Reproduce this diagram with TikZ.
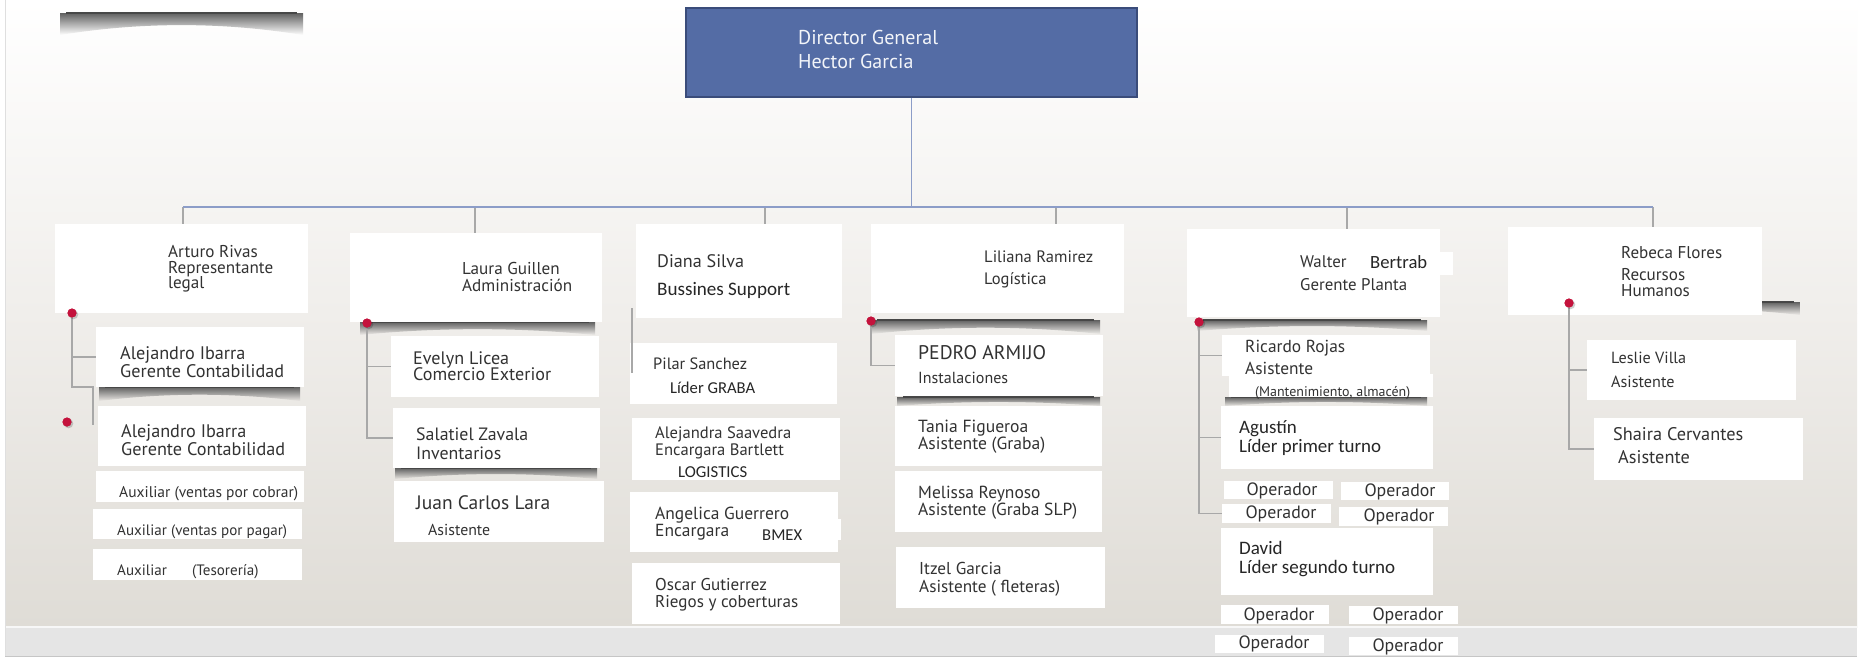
\documentclass[tikz,border=0pt]{standalone}
\usepackage{fontspec}
\setmainfont{PT Sans}
\newfontfamily\gillf{PT Sans}
\newfontfamily\calf{Carlito}
\usetikzlibrary{calc}

\definecolor{dirfill}{RGB}{84,108,165}
\definecolor{dirdraw}{RGB}{58,76,122}
\definecolor{busblue}{RGB}{140,157,200}
\definecolor{lnkgray}{RGB}{168,168,168}
\definecolor{dotred}{RGB}{196,18,60}
\definecolor{bgbot}{RGB}{223,220,214}
\definecolor{bgmid}{RGB}{240,238,235}
\definecolor{stripc}{RGB}{229,229,229}
\definecolor{ink}{RGB}{50,50,50}
\colorlet{bgB}{bgbot!26!bgmid}
\colorlet{bgC}{bgbot!50!bgmid}
\colorlet{shdark}{black!62}

\newlength\fitlen
\newcommand\fitw[2]{\settowidth\fitlen{\fontsize{10pt}{12pt}\selectfont #2}%
  \pgfmathsetmacro\fitsz{10*#1/\fitlen}\global\let\lastsz\fitsz
  \fontsize{\fitsz pt}{\fitsz pt}\selectfont #2}
\newcommand\samesz[1]{\fontsize{\lastsz pt}{\lastsz pt}\selectfont #1}

\tikzset{
  box/.style={fill=white, draw=none, inner sep=0, outer sep=0},
  dirbox/.style={fill=dirfill, draw=dirdraw, line width=1.5, inner sep=0},
  txt/.style={inner sep=0, anchor=base west, yshift=-5pt, text=ink, font=\gillf},
  calt/.style={font=\calf, text=black!85},
  bus/.style={draw=busblue, line width=1.4},
  drop/.style={draw=lnkgray, line width=1.2},
  lnk/.style={draw=lnkgray, line width=1.5},
  dot/.style={circle, fill=dotred, minimum size=9, inner sep=0},
}
\newcommand\bx[5]{\node[box, anchor=north west, minimum width={#4-#2}, minimum height={#5-#3}] (#1) at (#2,#3) {};}
\newcommand\tx[5][]{\node[txt,#1] (#2) at (#3,#4) {#5};}
% curled shadow: x1, x2, y, h, background colour
\newcommand\shad[5]{%
  \shade[top color=shdark, bottom color=#5]
    (#1,#3) -- (#2,#3) -- ({#2},{#3+#4})
    .. controls ({#2-(#2-#1)/3},{#3+0.4*#4}) and ({#1+(#2-#1)/3},{#3+0.4*#4}) .. ({#1},{#3+#4}) -- cycle;
  \draw[black!72, line width=1.1] ({#1+6},#3) -- ({#2-6},#3);}
\newcommand\dotsh[1]{\fill[black, opacity=0.18] ($(#1)+(1.5,1.5)$) circle (4.8);}

\begin{document}
\begin{tikzpicture}[x=1pt, y=-1pt]
\useasboundingbox (0,0) rectangle (1860,657);
\fill[white] (0,0) rectangle (1860,657);
% background
\shade[top color=white, bottom color=bgmid] (5,0) rectangle (1857,313);
\shade[top color=bgmid, bottom color=bgbot] (5,313) rectangle (1857,627);
\fill[stripc] (5,627) rectangle (1857,656);
\draw[white!70!stripc, line width=1.5] (5,627) -- (1857,627);
\draw[gray!45, line width=1] (5,656) -- (1857,656);
\draw[gray!25, line width=0.8] (5,0) -- (5,656);

% top-left decoration shadow
\shad{60}{303}{13}{22}{white}

% shadows under boxes
\shad{360}{595}{322}{13}{bgmid}
\shad{99}{300}{387}{14}{bgB}
\shad{395}{597}{468}{11}{bgC}
\shad{871}{1100}{320}{14}{bgmid}
\shad{897}{1100}{397}{9}{bgB}
\shad{1197}{1427}{320}{11}{bgmid}
\shad{1225}{1427}{397}{9}{bgB}
\shad{1600}{1800}{302}{13}{bgmid}

% director
\node[dirbox, anchor=north west, minimum width=451, minimum height=89] (dir) at (685,7) {};

% level 1 boxes
\bx{A}{55}{224}{308}{313}
\bx{B}{350}{233}{602}{322}
\bx{C}{636}{224}{842}{318}
\bx{D}{871}{224}{1124}{313}
\bx{E}{1187}{229}{1440}{317}
\bx{Ep}{1438}{252}{1453}{275}
\bx{F}{1508}{227}{1762}{315}

% bus
\coordinate (bA) at (183,207);
\coordinate (bB) at (475,207);
\coordinate (bC) at (765,207);
\coordinate (bD) at (1056,207);
\coordinate (bE) at (1347,207);
\coordinate (bF) at (1653,207);
\draw[drop] (bA) -- (bA |- A.north);
\draw[drop] (bB) -- (bB |- B.north);
\draw[drop] (bC) -- (bC |- C.north);
\draw[drop] (bD) -- (bD |- D.north);
\draw[drop] (bE) -- (bE |- E.north);
\draw[drop] (bF) -- (bF |- F.north);
\draw[bus] (dir.south) -- (dir.south |- bA);
\draw[bus] (bA) -- (bF);

% dots (positions)
\node[dot] (dA) at (72,313) {};
\node[dot] (dA2) at (67,422) {};
\node[dot] (dB) at (367,323) {};
\node[dot] (dD) at (871,321) {};
\node[dot] (dE) at (1199,322) {};
\node[dot] (dF) at (1569,303) {};

% level 2 boxes
\bx{a1}{96}{327}{304}{387}
\bx{a2}{98}{406}{306}{466}
\bx{a3}{96}{471}{304}{502}
\bx{a4}{93}{509}{302}{539}
\bx{a5}{93}{549}{302}{580}

\bx{b1}{391}{336}{599}{397}
\bx{b2}{393}{408}{600}{468}
\bx{b3}{394}{481}{604}{542}

\bx{c1}{630}{343}{837}{404}
\bx{c2}{632}{418}{840}{480}
\bx{c3}{630}{492}{838}{552}
\bx{c3p}{836}{519}{841}{540}
\bx{c4}{632}{563}{840}{624}

\bx{d1}{895}{335}{1103}{396}
\bx{d2}{895}{406}{1102}{466}
\bx{d3}{895}{471}{1102}{532}
\bx{d4}{896}{547}{1105}{608}

\bx{e1}{1222}{335}{1430}{376}
\bx{e1p}{1229}{374}{1433}{397}
\bx{e2}{1221}{406}{1433}{469}
\bx{o1}{1224}{481}{1333}{499}
\bx{o2}{1341}{482}{1449}{500}
\bx{o3}{1222}{504}{1331}{523}
\bx{o4}{1339}{507}{1448}{526}
\bx{e3}{1221}{528}{1433}{595}
\bx{o5}{1221}{605}{1329}{624}
\bx{o6}{1349}{606}{1458}{624}
\bx{o7}{1215}{635}{1324}{653}
\bx{o8}{1349}{637}{1458}{655}

\bx{f1}{1587}{340}{1796}{400}
\bx{f2}{1594}{418}{1803}{480}

% sub connectors
\coordinate (k2) at (93,425);
\draw[lnk] (dA) |- (a1.west);
\draw[lnk] (dA) |- (k2 |- a1.south) -- (k2);
\draw[lnk] (dB) |- (b1.west);
\draw[lnk] (dB) |- (b2.west);
\coordinate (cT) at (632,308);
\coordinate (cB) at (632,373);
\draw[lnk] (cT) -- (cB);
\draw[lnk] (dD) |- (d1.west);
\draw[lnk] (dE) |- (e1.west);
\draw[lnk] (dE) |- (e2.west);
\draw[lnk] (dE) |- (o3.west);
\draw[lnk] (dF) |- (f1.west);
\draw[lnk] (dF) |- (f2.west);

% dots on top with shadow
\dotsh{dA}\dotsh{dA2}\dotsh{dB}\dotsh{dD}\dotsh{dE}\dotsh{dF}
\node[dot] at (dA) {};
\node[dot] at (dA2) {};
\node[dot] at (dB) {};
\node[dot] at (dD) {};
\node[dot] at (dE) {};
\node[dot] at (dF) {};

% texts
\tx[text=white!93!dirfill]{t0a}{798}{39}{\fitw{140}{Director General}}
\tx[text=white!93!dirfill]{t0b}{798}{63}{\samesz{Hector Garcia}}

\tx{tA2}{168}{268}{\fitw{105}{Representante}}
\tx{tA1}{168}{252}{\samesz{Arturo Rivas}}
\tx{tA3}{168}{283}{\samesz{legal}}

\tx{tB2}{462}{286}{\fitw{110}{Administración}}
\tx{tB1}{462}{269}{\samesz{Laura Guillen}}

\tx{tC1}{657}{262}{\fitw{87}{Diana Silva}}
\tx[calt]{tC2}{657}{290}{\fitw{133}{Bussines Support}}

\tx{tD1}{984}{257}{\fitw{109}{Liliana Ramirez}}
\tx{tD2}{984}{279}{\samesz{Logística}}

\tx{tE2}{1300}{285}{\fitw{107}{Gerente Planta}}
\tx{tE1}{1300}{262}{\samesz{Walter}}
\tx[calt]{tE1b}{1370}{263}{\fitw{57}{Bertrab}}

\tx{tF1}{1621}{253}{\fitw{101}{Rebeca Flores}}
\tx{tF2}{1621}{275}{\samesz{Recursos}}
\tx{tF3}{1621}{291}{\samesz{Humanos}}

\tx[yshift=-6pt]{ta1b}{120}{366}{\fitw{164}{Gerente Contabilidad}}
\tx[yshift=-6pt]{ta1a}{120}{348}{\samesz{Alejandro Ibarra}}
\tx[yshift=-6pt]{ta2b}{121}{444}{\fitw{164}{Gerente Contabilidad}}
\tx[yshift=-6pt]{ta2a}{121}{426}{\samesz{Alejandro Ibarra}}
\tx[yshift=-4pt]{ta3}{119}{488}{\fitw{179}{Auxiliar (ventas por cobrar)}}
\tx[yshift=-4pt]{ta4}{117}{526}{\fitw{170}{Auxiliar (ventas por pagar)}}
\tx[yshift=-4pt]{ta5a}{117}{566}{\samesz{Auxiliar}}
\tx[yshift=-4pt]{ta5b}{192}{566}{\samesz{(Tesorería)}}

\tx{tb1b}{413}{375}{\fitw{138}{Comercio Exterior}}
\tx{tb1a}{413}{359}{\samesz{Evelyn Licea}}
\tx[yshift=-6pt]{tb2a}{416}{429}{\fitw{112}{Salatiel Zavala}}
\tx[yshift=-6pt]{tb2b}{416}{448}{\samesz{Inventarios}}
\tx[yshift=-6pt]{tb3a}{416}{498}{\fitw{134}{Juan Carlos Lara}}
\tx[yshift=-4pt]{tb3b}{428}{526}{\fitw{62}{Asistente}}

\tx{tc1a}{653}{364}{\fitw{94}{Pilar Sanchez}}
\tx[calt,yshift=-4pt]{tc1b}{670}{384}{\fitw{85}{Líder GRABA}}
\tx{tc2a}{655}{433}{\fitw{136}{Alejandra Saavedra}}
\tx{tc2b}{655}{450}{\samesz{Encargara Bartlett}}
\tx[calt,yshift=-4pt]{tc2c}{678}{468}{\fitw{69}{LOGISTICS}}
\tx{tc3a}{655}{514}{\fitw{134}{Angelica Guerrero}}
\tx{tc3b}{655}{531}{\samesz{Encargara}}
\tx[calt,yshift=-4pt]{tc3c}{762}{531}{\fitw{40}{BMEX}}
\tx{tc4b}{655}{602}{\fitw{143}{Riegos y coberturas}}
\tx{tc4a}{655}{585}{\samesz{Oscar Gutierrez}}

\tx{td1a}{918}{354}{\fitw{128}{PEDRO ARMIJO}}
\tx[yshift=-4pt]{td1b}{918}{374}{\fitw{90}{Instalaciones}}
\tx{td2b}{918}{444}{\fitw{127}{Asistente (Graba)}}
\tx{td2a}{918}{427}{\samesz{Tania Figueroa}}
\tx{td3b}{918}{510}{\fitw{159}{Asistente (Graba SLP)}}
\tx{td3a}{918}{493}{\samesz{Melissa Reynoso}}
\tx{td4b}{919}{587}{\fitw{141}{Asistente ( fleteras)}}
\tx{td4a}{919}{569}{\samesz{Itzel Garcia}}

\tx{te1a}{1245}{347}{\fitw{100}{Ricardo Rojas}}
\tx{te1b}{1245}{369}{\samesz{Asistente}}
\tx[yshift=-3pt]{te1c}{1255}{388}{\fitw{155}{(Mantenimiento, almacén)}}
\tx[calt]{te2b}{1239}{447}{\fitw{142}{Líder primer turno}}
\tx[calt]{te2a}{1239}{428}{\samesz{Agustín}}
\tx[calt]{te3b}{1239}{568}{\fitw{156}{Líder segundo turno}}
\tx[calt]{te3a}{1239}{549}{\samesz{David}}

\tx[anchor=base]{to1}{1282}{490}{\fitw{71}{Operador}}
\tx[anchor=base]{to2}{1400}{491}{\samesz{Operador}}
\tx[anchor=base]{to3}{1281}{513}{\samesz{Operador}}
\tx[anchor=base]{to4}{1399}{516}{\samesz{Operador}}
\tx[anchor=base]{to5}{1279}{615}{\samesz{Operador}}
\tx[anchor=base]{to6}{1408}{615}{\samesz{Operador}}
\tx[anchor=base]{to7}{1274}{643}{\samesz{Operador}}
\tx[anchor=base]{to8}{1408}{646}{\samesz{Operador}}

\tx{tf1a}{1611}{358}{\fitw{75}{Leslie Villa}}
\tx{tf1b}{1611}{382}{\samesz{Asistente}}
\tx{tf2a}{1613}{435}{\fitw{130}{Shaira Cervantes}}
\tx{tf2b}{1618}{458}{\samesz{Asistente}}
\end{tikzpicture}
\end{document}
